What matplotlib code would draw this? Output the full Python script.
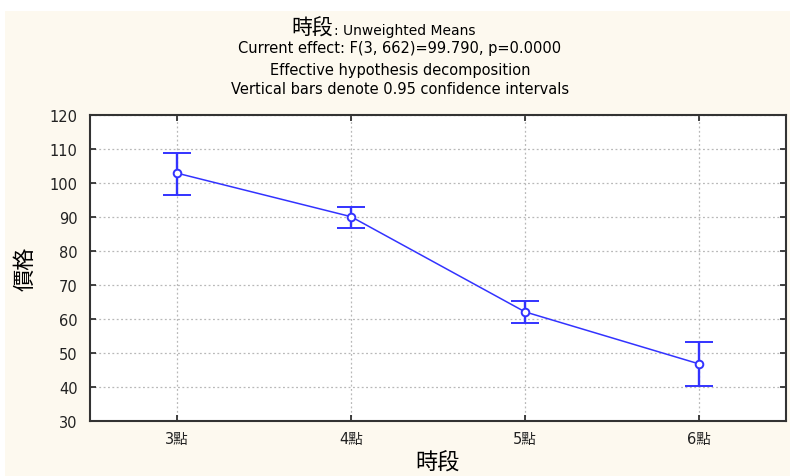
import matplotlib
matplotlib.use("Agg")
import matplotlib.pyplot as plt
from matplotlib.patches import Rectangle

plt.rcParams["font.family"] = ["DejaVu Sans", "Noto Sans CJK TC"]

periods = ["3點", "4點", "5點", "6點"]
means = [102.9, 90.1, 62.1, 46.8]
upper = [108.8, 92.9, 65.3, 53.2]
lower = [96.6, 86.7, 58.8, 40.3]
yticks = [30, 40, 50, 60, 70, 80, 90, 100, 110, 120]

err_lo = [m - lo for m, lo in zip(means, lower)]
err_hi = [hi - m for m, hi in zip(means, upper)]
xpos = list(range(len(periods)))

blue = "#3333ff"
cream = "#fdf9ef"

fig = plt.figure(figsize=(7.9, 4.77), dpi=100, facecolor="white")
fig.patches.append(Rectangle((5 / 790, 0), 1, 1 - 12 / 477, transform=fig.transFigure,
                             facecolor=cream, edgecolor="none", zorder=-10))

ax = fig.add_axes([90 / 790, 55 / 477, 696 / 790, 306 / 477])
ax.set_facecolor("white")

ax.errorbar(xpos, means, yerr=[err_lo, err_hi], color=blue, lw=1.1,
            elinewidth=1.7, capsize=10, capthick=1.7,
            marker="o", markersize=5.5, markerfacecolor="white",
            markeredgecolor=blue, markeredgewidth=1.4, zorder=3)

ax.set_xlim(-0.5, 3.5)
ax.set_ylim(30, 120)
ax.set_xticks(xpos)
ax.set_xticklabels(periods)
ax.set_yticks(yticks)
ax.tick_params(direction="in", length=4, width=1.2, labelsize=10.5,
               top=True, right=True, colors="#222222")
ax.tick_params(axis="y", pad=9)
ax.tick_params(axis="x", pad=7)
ax.grid(True, linestyle=(0, (1.5, 2)), color="#b8b8b8", lw=0.9)
for s in ax.spines.values():
    s.set_linewidth(1.5)
    s.set_color("#333333")

ax.set_ylabel("價格", fontsize=16, labelpad=10)
ax.set_xlabel("時段", fontsize=16, labelpad=4)

# title block
fig.text(333 / 790, 1 - 35 / 477, "時段", fontsize=15, ha="right", va="baseline")
fig.text(334 / 790, 1 - 35 / 477, ": Unweighted Means", fontsize=10, ha="left", va="baseline")
fig.text(400 / 790, 1 - 49 / 477, "Current effect: F(3, 662)=99.790, p=0.0000",
         fontsize=10.5, ha="center", va="center")
fig.text(400 / 790, 1 - 71 / 477, "Effective hypothesis decomposition",
         fontsize=10.5, ha="center", va="center")
fig.text(400 / 790, 1 - 90 / 477, "Vertical bars denote 0.95 confidence intervals",
         fontsize=10.5, ha="center", va="center")

fig.savefig("out.png", dpi=100, facecolor=fig.get_facecolor())
